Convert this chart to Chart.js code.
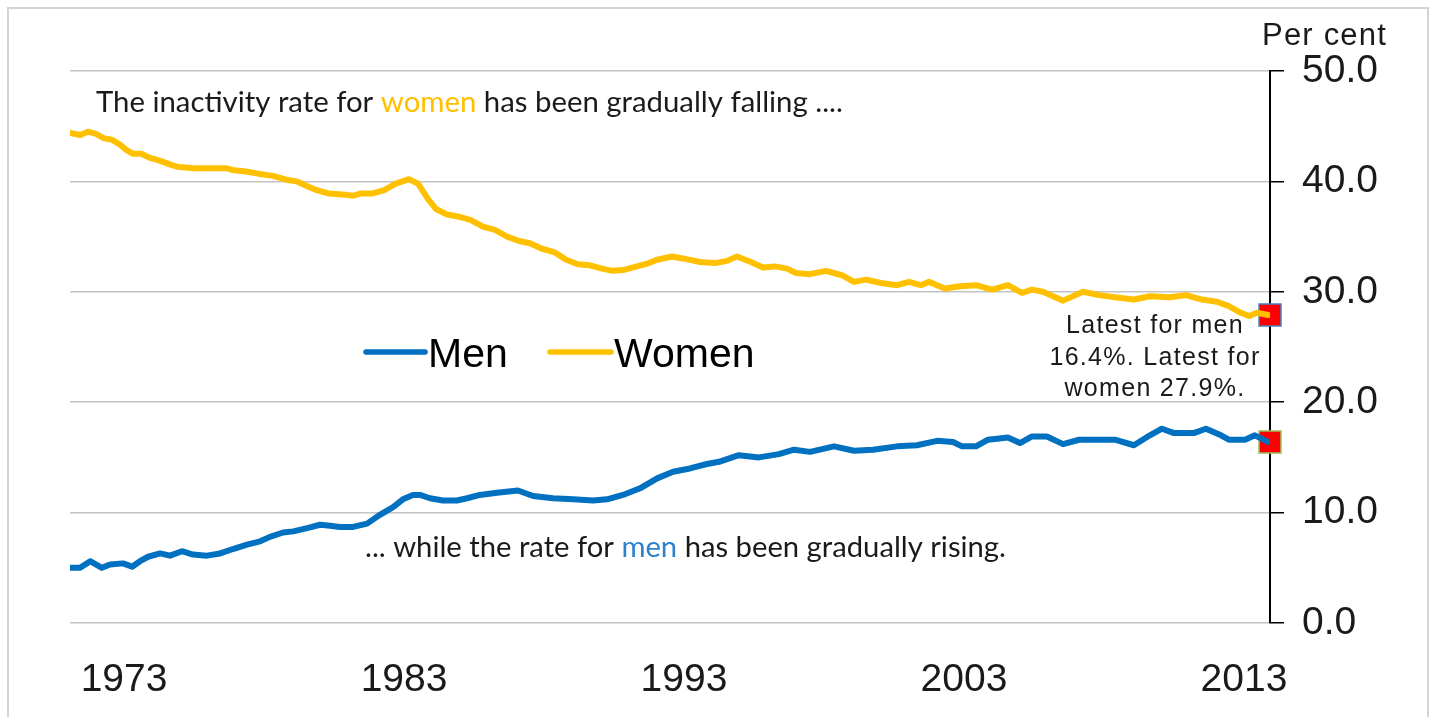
<!DOCTYPE html>
<html><head><meta charset="utf-8">
<script src="https://cdn.jsdelivr.net/npm/chart.js@4/dist/chart.umd.min.js"></script>
<style>html,body{margin:0;padding:0;background:#fff;overflow:hidden}#wrap{position:relative;width:1433px;height:717px}</style>
</head><body><div id="wrap"><canvas id="c"></canvas></div>
<script>
// ---- data ----
const womenYears = [1971.07,1971.43,1971.71,1972.00,1972.29,1972.54,1972.82,1973.11,1973.32,1973.61,1973.96,1974.25,1974.68,1974.96,1975.50,1976.07,1976.64,1976.93,1977.36,1977.79,1978.32,1978.89,1979.18,1979.61,1979.89,1980.32,1980.89,1981.18,1981.43,1981.86,1982.29,1982.71,1983.18,1983.50,1983.86,1984.14,1984.54,1984.96,1985.39,1985.82,1986.25,1986.68,1987.11,1987.50,1987.93,1988.36,1988.79,1989.21,1989.64,1990.07,1990.46,1990.89,1991.32,1991.75,1992.04,1992.57,1993.00,1993.57,1994.11,1994.54,1994.89,1995.39,1995.82,1996.25,1996.68,1997.00,1997.50,1998.07,1998.64,1999.07,1999.50,2000.04,2000.61,2001.04,2001.46,2001.75,2002.32,2002.86,2003.43,2004.00,2004.57,2005.07,2005.43,2005.82,2006.54,2007.25,2007.82,2008.39,2009.07,2009.64,2010.36,2010.93,2011.50,2012.04,2012.46,2012.89,2013.18,2013.46,2013.86];
const womenValues = [44.4,44.2,44.5,44.3,43.9,43.8,43.4,42.8,42.5,42.5,42.1,41.9,41.5,41.3,41.2,41.2,41.2,41.0,40.9,40.7,40.5,40.1,40.0,39.5,39.2,38.9,38.8,38.7,38.9,38.9,39.2,39.8,40.2,39.8,38.4,37.5,37.0,36.8,36.5,35.9,35.6,35.0,34.6,34.4,33.9,33.6,32.9,32.5,32.4,32.1,31.9,32.0,32.3,32.6,32.9,33.2,33.0,32.7,32.6,32.8,33.2,32.7,32.2,32.3,32.1,31.7,31.6,31.9,31.5,30.9,31.1,30.8,30.6,30.9,30.6,30.9,30.3,30.5,30.6,30.2,30.6,29.9,30.2,30.0,29.2,30.0,29.7,29.5,29.3,29.6,29.5,29.7,29.3,29.1,28.7,28.1,27.8,28.1,27.9];
const menYears = [1971.07,1971.43,1971.79,1972.21,1972.50,1972.96,1973.29,1973.57,1973.86,1974.29,1974.64,1975.07,1975.46,1975.96,1976.43,1976.89,1977.39,1977.86,1978.21,1978.68,1979.04,1979.54,1980.00,1980.36,1980.71,1981.18,1981.68,1982.14,1982.61,1982.96,1983.32,1983.57,1983.93,1984.39,1984.89,1985.25,1985.71,1986.32,1987.07,1987.61,1988.32,1989.04,1989.75,1990.25,1990.82,1991.43,1992.04,1992.61,1993.21,1993.82,1994.25,1994.96,1995.68,1996.39,1996.93,1997.50,1998.36,1999.07,1999.75,2000.61,2001.32,2002.04,2002.61,2002.93,2003.43,2003.86,2004.57,2005.00,2005.43,2005.96,2006.54,2007.11,2007.68,2008.39,2009.07,2009.64,2010.07,2010.50,2011.21,2011.64,2012.18,2012.46,2013.04,2013.39,2013.86];
const menValues = [5.0,5.0,5.6,5.0,5.3,5.4,5.1,5.6,6.0,6.3,6.1,6.5,6.2,6.1,6.3,6.7,7.1,7.4,7.8,8.2,8.3,8.6,8.9,8.8,8.7,8.7,9.0,9.8,10.5,11.2,11.6,11.6,11.3,11.1,11.1,11.3,11.6,11.8,12.0,11.5,11.3,11.2,11.1,11.2,11.6,12.2,13.1,13.7,14.0,14.4,14.6,15.2,15.0,15.3,15.7,15.5,16.0,15.6,15.7,16.0,16.1,16.5,16.4,16.0,16.0,16.6,16.8,16.3,16.9,16.9,16.2,16.6,16.6,16.6,16.1,17.0,17.6,17.2,17.2,17.6,17.0,16.6,16.6,17.0,16.4];
const latestYear = 2013.93;
const latestMen = 16.4;
const latestWomen = 27.9;
const seriesNames = ['Men', 'Women'];
const xTickYears = [1973, 1983, 1993, 2003, 2013];
const yTickValues = [0, 10, 20, 30, 40, 50];
const unitLabel = 'Per cent';
const noteTop = [['The inactivity rate for ', 'text'], ['women', 'women'], [' has been gradually falling ....', 'text']];
const noteBottom = [['... while the rate for ', 'text'], ['men', 'men'], [' has been gradually rising.', 'text']];
const noteLatest = ['Latest for men', '16.4%. Latest for', 'women 27.9%.'];

// ---- styles ----
const MEN_C = '#0070C0', WOMEN_C = '#FFC000', TEXT_C = '#1a1a1a';
const ARIAL = '"Liberation Sans", Arial, sans-serif';
const CALIBRI = 'Lato, "Open Sans", sans-serif';
const colorOf = {text: TEXT_C, men: '#2a82cf', women: WOMEN_C};

const zip = (xs, ys) => xs.map((x, i) => ({x, y: ys[i]}));

function drawRich(ctx, parts, x, y, targetW, family) {
  ctx.font = '24px ' + family;
  const w = parts.reduce((s, p) => s + ctx.measureText(p[0]).width, 0);
  const size = 24 * targetW / w;
  ctx.font = size.toFixed(2) + 'px ' + family;
  ctx.textBaseline = 'alphabetic'; ctx.textAlign = 'left';
  let cx = x;
  for (const p of parts) {
    ctx.fillStyle = colorOf[p[1]];
    ctx.fillText(p[0], cx, y);
    cx += ctx.measureText(p[0]).width;
  }
}

const overlay = {
  id: 'overlay',
  beforeDraw(chart) {
    const ctx = chart.ctx;
    ctx.save();
    ctx.fillStyle = '#fff'; ctx.fillRect(0, 0, chart.width, chart.height);
    ctx.strokeStyle = '#d4d4d4'; ctx.lineWidth = 2;
    ctx.strokeRect(8, 8, 1420, 730);
    ctx.restore();
  },
  afterDraw(chart) {
    const ctx = chart.ctx;
    ctx.save();
    // unit label
    ctx.fillStyle = TEXT_C; ctx.font = '31px ' + ARIAL;
    ctx.textBaseline = 'alphabetic'; ctx.textAlign = 'left';
    ctx.letterSpacing = '1.2px';
    ctx.fillText(unitLabel, 1262, 45);
    // latest note
    ctx.font = '25px ' + ARIAL; ctx.textAlign = 'center'; ctx.letterSpacing = '1.3px';
    noteLatest.forEach((t, i) => ctx.fillText(t, 1155, 333 + i * 31.7));
    ctx.letterSpacing = '0px';
    // legend
    const ds = chart.data.datasets;
    const leg = [{x0: 366, x1: 425, tx: 428}, {x0: 550, x1: 611, tx: 614}];
    [0, 1].forEach(i => {
      ctx.strokeStyle = ds[i].borderColor; ctx.lineWidth = 5.5; ctx.lineCap = 'round';
      ctx.beginPath(); ctx.moveTo(leg[i].x0, 352); ctx.lineTo(leg[i].x1, 352); ctx.stroke();
      ctx.fillStyle = '#000'; ctx.font = '41px ' + ARIAL; ctx.textAlign = 'left';
      ctx.fillText(ds[i].label, leg[i].tx, 367);
    });
    // notes
    drawRich(ctx, noteTop, 96, 112, 747, CALIBRI);
    drawRich(ctx, noteBottom, 365, 557, 641, CALIBRI);
    ctx.restore();
  }
};

new Chart(document.getElementById('c'), {
  type: 'line',
  data: {
    datasets: [
      {label: seriesNames[0], data: zip(menYears, menValues), borderColor: MEN_C, borderWidth: 6, pointRadius: 0, tension: 0, borderJoinStyle: 'round', borderCapStyle: 'round'},
      {label: seriesNames[1], data: zip(womenYears, womenValues), borderColor: WOMEN_C, borderWidth: 6, pointRadius: 0, tension: 0, borderJoinStyle: 'round', borderCapStyle: 'round'},
      {label: 'latestWomen', type: 'scatter', data: [{x: latestYear, y: latestWomen}], pointStyle: 'rect', pointRadius: 15.5, backgroundColor: '#ff0000', borderColor: '#4a7ebb', borderWidth: 1.5, clip: false},
      {label: 'latestMen', type: 'scatter', data: [{x: latestYear, y: latestMen}], pointStyle: 'rect', pointRadius: 15.5, backgroundColor: '#ff0000', borderColor: '#9bbb59', borderWidth: 1.5, clip: false}
    ]
  },
  options: {
    responsive: true, maintainAspectRatio: false, animation: false,
    layout: {padding: {left: 70, top: 71, right: 0, bottom: 0}},
    plugins: {legend: {display: false}, tooltip: {enabled: false}},
    scales: {
      x: {
        type: 'linear', min: 1971.07, max: latestYear,
        grid: {display: false}, border: {display: false},
        afterBuildTicks: s => { s.ticks = xTickYears.map(v => ({value: v})); },
        afterFit: s => { s.height = 94; },
        ticks: {autoSkip: false, maxRotation: 0, padding: 26, color: TEXT_C, font: {family: ARIAL, size: 39}, callback: v => String(v)}
      },
      y: {
        position: 'right', min: 0, max: 50,
        afterBuildTicks: s => { s.ticks = yTickValues.map(v => ({value: v})); },
        afterFit: s => { s.width = 163; },
        grid: {color: '#c4c4c4', lineWidth: 1.5, tickColor: '#000', tickLength: 14, tickWidth: 1.5},
        border: {display: true, color: '#000', width: 2},
        ticks: {padding: 18, color: TEXT_C, font: {family: ARIAL, size: 39}, callback: v => v.toFixed(1)}
      }
    }
  },
  plugins: [overlay]
});
</script></body></html>
